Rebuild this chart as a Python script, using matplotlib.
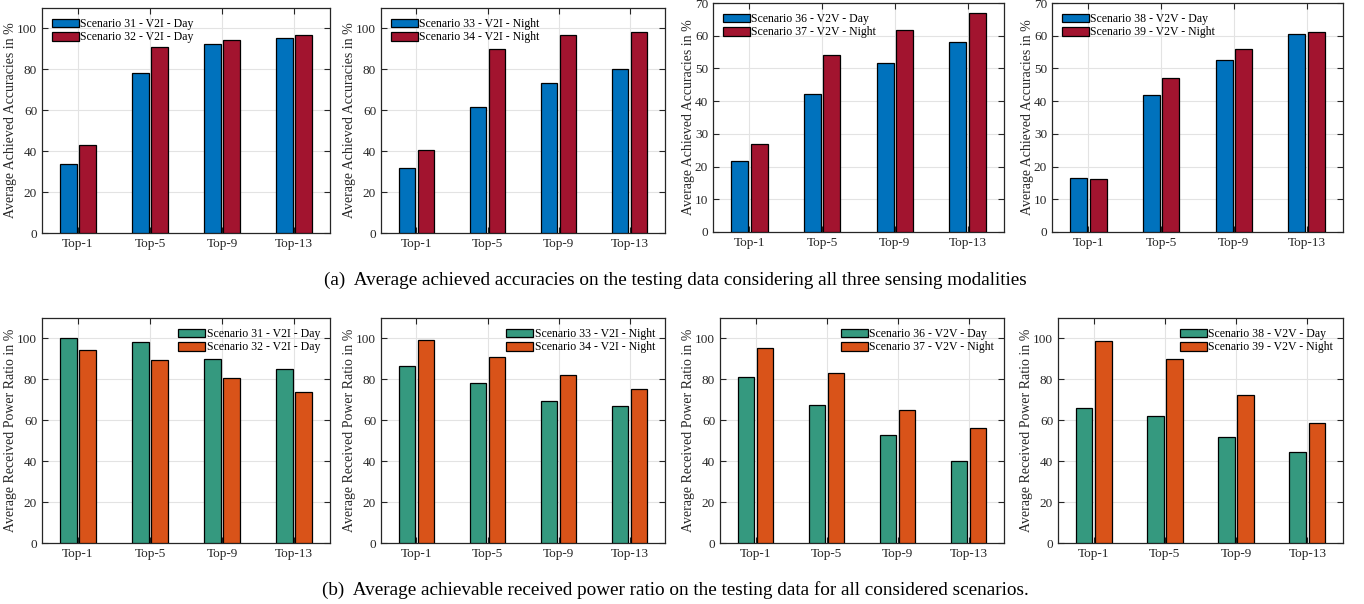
import numpy as np
import matplotlib
matplotlib.use("Agg")
import matplotlib.pyplot as plt

plt.rcParams['font.family'] = ['Liberation Serif', 'DejaVu Serif']
plt.rcParams['mathtext.fontset'] = 'stix'

# ---- data ----
categories = ["Top-1", "Top-5", "Top-9", "Top-13"]

# (a) accuracies
acc_labels = [("Scenario 31 - V2I - Day", "Scenario 32 - V2I - Day"),
              ("Scenario 33 - V2I - Night", "Scenario 34 - V2I - Night"),
              ("Scenario 36 - V2V - Day", "Scenario 37 - V2V - Night"),
              ("Scenario 38 - V2V - Day", "Scenario 39 - V2V - Night")]
acc_s31 = [33.6, 78.4, 92.6, 95.2]
acc_s32 = [43.0, 91.1, 94.6, 96.7]
acc_s33 = [31.8, 61.5, 73.2, 80.0]
acc_s34 = [40.8, 90.0, 96.6, 98.4]
acc_s36 = [21.8, 42.3, 51.6, 58.0]
acc_s37 = [27.0, 54.2, 61.8, 67.0]
acc_s38 = [16.4, 41.9, 52.7, 60.5]
acc_s39 = [16.1, 47.0, 55.9, 61.0]
acc_ylims = [110, 110, 70, 70]

# (b) received power ratio
pwr_s31 = [100.0, 98.1, 90.0, 85.0]
pwr_s32 = [94.5, 89.5, 80.7, 73.8]
pwr_s33 = [86.7, 78.0, 69.6, 67.2]
pwr_s34 = [99.2, 90.9, 82.1, 75.1]
pwr_s36 = [81.2, 67.7, 52.9, 40.3]
pwr_s37 = [95.5, 83.3, 65.1, 56.0]
pwr_s38 = [65.9, 62.2, 51.6, 44.3]
pwr_s39 = [99.0, 89.8, 72.2, 58.9]

acc_pairs = [(acc_s31, acc_s32), (acc_s33, acc_s34), (acc_s36, acc_s37), (acc_s38, acc_s39)]
pwr_pairs = [(pwr_s31, pwr_s32), (pwr_s33, pwr_s34), (pwr_s36, pwr_s37), (pwr_s38, pwr_s39)]

W, H = 1364, 604
fig = plt.figure(figsize=(W / 100, H / 100), dpi=100)

def px_axes(l, t, r, b):
    return fig.add_axes([l / W, 1 - b / H, (r - l) / W, (b - t) / H])

top_boxes = [(42, 8, 330, 233), (381, 8, 665, 233), (713, 3, 1004, 232), (1052, 3, 1343, 232)]
bot_boxes = [(42, 318, 330, 543), (381, 318, 665, 543), (720, 318, 1004, 543), (1058, 318, 1343, 543)]

txt_col = '#262626'
x = np.arange(1, len(categories) + 1)
bw = 0.235
off = 0.135

def draw(ax, pair, labels, colors, ylim, ylabel, legloc):
    ax.bar(x - off, pair[0], bw, color=colors[0], edgecolor='black', linewidth=0.9, label=labels[0], zorder=3)
    ax.bar(x + off, pair[1], bw, color=colors[1], edgecolor='black', linewidth=0.9, label=labels[1], zorder=3)
    ax.set_xlim(0.5, 4.5)
    ax.set_ylim(0, ylim)
    ax.set_xticks(x)
    ax.set_xticklabels(categories)
    ax.set_yticks(np.arange(0, ylim + 1, 20 if ylim > 100 else 10))
    ax.grid(True, color='#e3e3e3', linewidth=0.8, zorder=0)
    ax.tick_params(direction='in', top=True, right=True, length=4, labelsize=9.5,
                   colors=txt_col, labelcolor=txt_col, width=0.8)
    for s in ax.spines.values():
        s.set_color(txt_col)
        s.set_linewidth(0.9)
    ax.set_ylabel(ylabel, fontsize=10, color=txt_col, labelpad=0)
    ax.legend(loc=legloc, fontsize=8.5, frameon=False, handlelength=2.3, handleheight=0.75,
              handletextpad=0.1, borderaxespad=0.45, labelspacing=0.12)

for i in range(4):
    ax = px_axes(*top_boxes[i])
    draw(ax, acc_pairs[i], acc_labels[i], ('#0072BD', '#A2142F'), acc_ylims[i],
         'Average Achieved Accuracies in %', 'upper left')
    ax2 = px_axes(*bot_boxes[i])
    draw(ax2, pwr_pairs[i], acc_labels[i], ('#35997F', '#D95319'), 110,
         'Average Received Power Ratio in %', 'upper right')

fig.text(675 / W, 1 - 280 / H, "(a)  Average achieved accuracies on the testing data considering all three sensing modalities",
         ha='center', va='center', fontsize=13.8, color='black')
fig.text(675 / W, 1 - 590 / H, "(b)  Average achievable received power ratio on the testing data for all considered scenarios.",
         ha='center', va='center', fontsize=13.8, color='black')

fig.savefig("out.png", dpi=100)
